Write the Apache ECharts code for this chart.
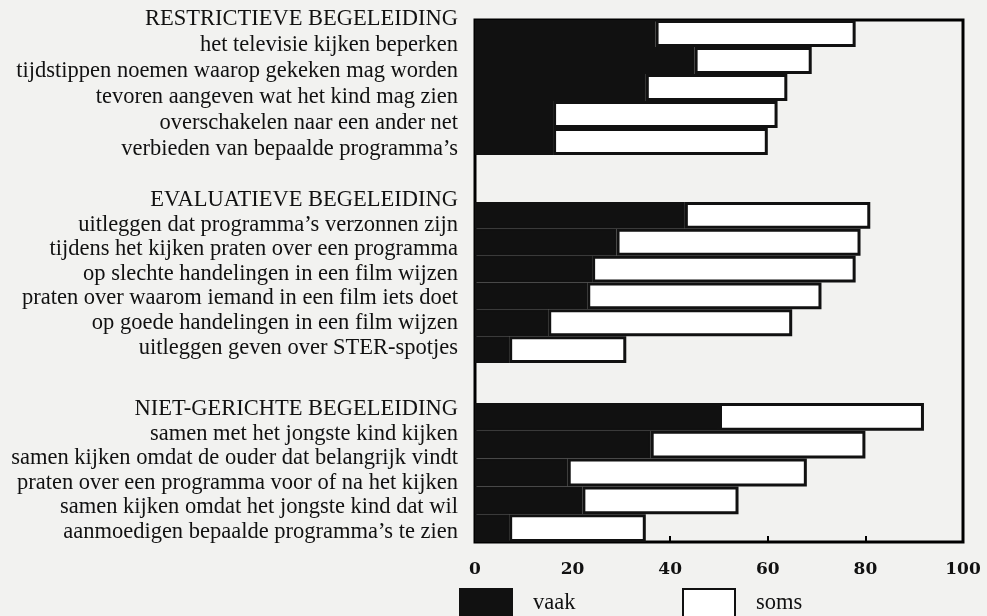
<!DOCTYPE html>
<html>
<head>
<meta charset="utf-8">
<script src="https://cdn.jsdelivr.net/npm/echarts@6/dist/echarts.min.js"></script>
<style>
html,body{margin:0;padding:0;background:#f2f2f0;}
#chart{width:987px;height:616px;}
</style>
</head>
<body>
<div id="chart"></div>
<script>
// ---- data ----
const headers = ['RESTRICTIEVE BEGELEIDING', 'EVALUATIEVE BEGELEIDING', 'NIET-GERICHTE BEGELEIDING'];
const items1 = ['het televisie kijken beperken', 'tijdstippen noemen waarop gekeken mag worden', 'tevoren aangeven wat het kind mag zien', 'overschakelen naar een ander net', 'verbieden van bepaalde programma’s'];
const items2 = ['uitleggen dat programma’s verzonnen zijn', 'tijdens het kijken praten over een programma', 'op slechte handelingen in een film wijzen', 'praten over waarom iemand in een film iets doet', 'op goede handelingen in een film wijzen', 'uitleggen geven over STER-spotjes'];
const items3 = ['samen met het jongste kind kijken', 'samen kijken omdat de ouder dat belangrijk vindt', 'praten over een programma voor of na het kijken', 'samen kijken omdat het jongste kind dat wil', 'aanmoedigen bepaalde programma’s te zien'];
const vaak1 = [37, 45, 35, 16, 16];
const soms1 = [41, 24, 29, 46, 44];
const vaak2 = [43, 29, 24, 23, 15, 7];
const soms2 = [38, 50, 54, 48, 50, 24];
const vaak3 = [50, 36, 19, 22, 7];
const soms3 = [42, 44, 49, 32, 28];
const xTicks = [0, 20, 40, 60, 80, 100];
const legendNames = ['vaak', 'soms'];

// ---- layout ----
const serif = '"Liberation Serif", "DejaVu Serif", serif';
const L = 475, R = 987 - 963;
const barGrids = [
  {top: 20, height: 135},
  {top: 202, height: 161},
  {top: 403, height: 139}
];
const labelGrids = [
  {top: 6.5, height: 156},
  {top: 188, height: 172},
  {top: 397, height: 147}
];
const groups = [
  {items: items1, vaak: vaak1, soms: soms1},
  {items: items2, vaak: vaak2, soms: soms2},
  {items: items3, vaak: vaak3, soms: soms3}
];

const grid = [], xAxis = [], yAxis = [], series = [];
// frame grid (index 0)
grid.push({left: L, right: R, top: 20, height: 522, show: true, borderColor: '#000', borderWidth: 3, backgroundColor: 'transparent'});
xAxis.push({gridIndex: 0, type: 'value', min: xTicks[0], max: xTicks[xTicks.length - 1], interval: xTicks[1] - xTicks[0],
  axisLine: {show: false}, splitLine: {show: false},
  axisTick: {show: true, inside: true, length: 6, lineStyle: {color: '#000', width: 2}},
  axisLabel: {margin: 19, color: '#111', fontSize: 17, fontWeight: 'bold', fontFamily: '"DejaVu Serif", serif'}});
yAxis.push({gridIndex: 0, type: 'value', show: false});

groups.forEach((g, i) => {
  // bar grid
  const bi = grid.length;
  grid.push({left: L, right: R, top: barGrids[i].top, height: barGrids[i].height});
  xAxis.push({gridIndex: bi, type: 'value', min: 0, max: 100, show: false});
  yAxis.push({gridIndex: bi, type: 'category', inverse: true, data: g.items, show: false});
  series.push({name: 'vaak', type: 'bar', stack: 's' + i, xAxisIndex: bi, yAxisIndex: bi,
    barCategoryGap: '0%', data: g.vaak, itemStyle: {color: '#111', borderColor: '#111', borderWidth: 2}, silent: true});
  series.push({name: 'soms', type: 'bar', stack: 's' + i, xAxisIndex: bi, yAxisIndex: bi,
    barCategoryGap: '0%', data: g.soms, itemStyle: {color: '#fff', borderColor: '#111', borderWidth: 3}, silent: true});
  // label grid
  const li = grid.length;
  grid.push({left: L, right: R, top: labelGrids[i].top, height: labelGrids[i].height});
  xAxis.push({gridIndex: li, type: 'value', min: 0, max: 100, show: false});
  yAxis.push({gridIndex: li, type: 'category', inverse: true, data: [headers[i]].concat(g.items),
    axisLine: {show: false}, axisTick: {show: false}, splitLine: {show: false},
    axisLabel: {margin: 17, color: '#111', fontSize: 22.5, fontFamily: serif, interval: 0}});
});

const chart = echarts.init(document.getElementById('chart'), null, {renderer: 'canvas'});
chart.setOption({
  backgroundColor: '#f2f2f0',
  animation: false,
  legend: [
    {left: 459, top: 588, padding: 0, itemWidth: 52, itemHeight: 28, selectedMode: false, icon: 'rect',
      data: [{name: legendNames[0], itemStyle: {color: '#111'}}],
      textStyle: {fontSize: 22.5, fontFamily: serif, color: '#111', padding: [2, 0, 0, 16]}},
    {left: 682, top: 588, padding: 0, itemWidth: 52, itemHeight: 28, selectedMode: false, icon: 'rect',
      data: [{name: legendNames[1], itemStyle: {color: '#fff', borderColor: '#111', borderWidth: 2}}],
      textStyle: {fontSize: 22.5, fontFamily: serif, color: '#111', padding: [2, 0, 0, 16]}}
  ],
  grid, xAxis, yAxis, series
});
</script>
</body>
</html>
